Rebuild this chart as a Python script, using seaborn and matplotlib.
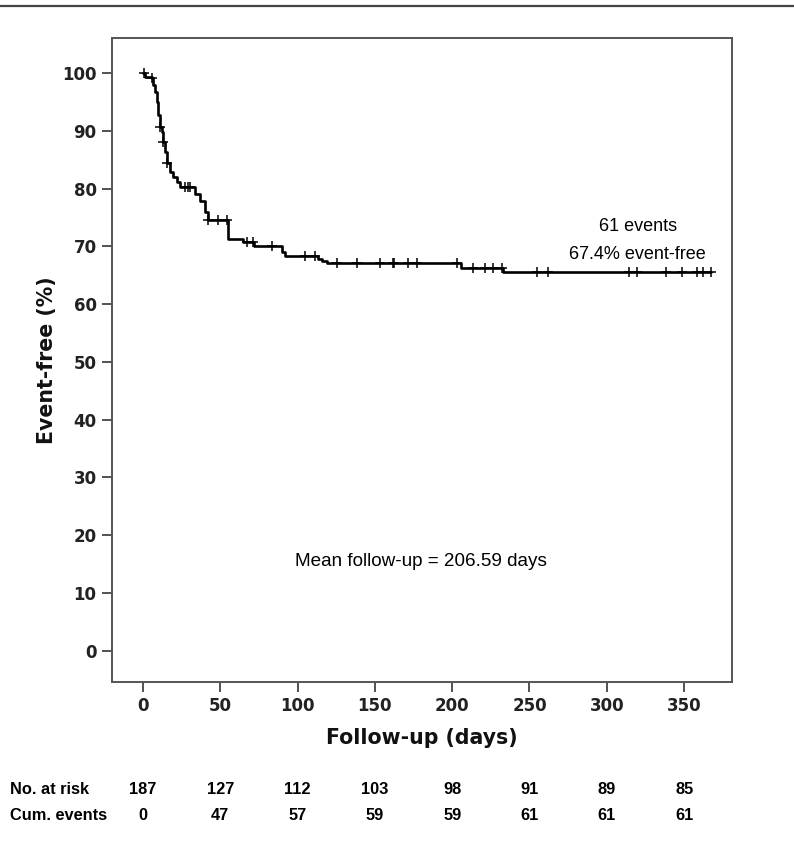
import numpy as np
import pandas as pd
import matplotlib
matplotlib.use("Agg")
import matplotlib.pyplot as plt
from matplotlib.lines import Line2D
import seaborn as sns

# ---- data ----
step_days = [0, 1.3, 5.8, 6.7, 7.8, 8.9, 9.9, 11.0, 12.1, 13.1, 14.2, 15.3, 17.5,
             19.6, 21.8, 23.9, 33.5, 37.0, 40.0, 42.0, 55.0, 65.0, 72.0, 90.0,
             92.0, 113.0, 116.0, 119.0, 205.5, 233.0, 367.5]
step_surv = [100, 99.4, 99.1, 97.9, 96.8, 95.0, 92.7, 90.7, 89.8, 88.1, 86.4, 84.4,
             82.9, 82.0, 81.2, 80.3, 79.0, 77.8, 76.0, 74.6, 71.3, 70.7, 70.1, 69.1,
             68.3, 67.8, 67.4, 67.1, 66.2, 65.6, 65.6]
censor_days = [0.5, 5.8, 11.0, 13.1, 15.3, 27.2, 29.1, 30.4, 42.2, 48.7, 54.1,
               67.1, 71.3, 83.2, 104.8, 111.3, 125.5, 138.4, 153.2, 161.7, 162.5,
               171.4, 177.2, 203.1, 213.5, 221.2, 226.4, 232.2, 254.8, 261.9,
               314.4, 319.5, 338.3, 348.6, 358.3, 362.2, 367.4]
risk_times = [0, 50, 100, 150, 200, 250, 300, 350]
n_at_risk = [187, 127, 112, 103, 98, 91, 89, 85]
cum_events = [0, 47, 57, 59, 59, 61, 61, 61]
x_ticks = [0, 50, 100, 150, 200, 250, 300, 350]
y_ticks = [0, 10, 20, 30, 40, 50, 60, 70, 80, 90, 100]

sns.set_theme(style="ticks")
plt.rcParams['font.family'] = ['DejaVu Sans']
plt.rcParams['text.color'] = 'black'

fig = plt.figure(figsize=(7.94, 8.6), dpi=100)
ax = fig.add_axes([0.141, 0.207, 0.781, 0.749])

curve = pd.DataFrame({"day": step_days, "surv": step_surv})
sns.lineplot(data=curve, x="day", y="surv", drawstyle="steps-post",
             color="black", lw=1.9, ax=ax, estimator=None, sort=False)

# censor marks placed on the step curve
sd = np.array(step_days)
ss = np.array(step_surv)
cy = [ss[np.searchsorted(sd, d, side="right") - 1] for d in censor_days]
cens = pd.DataFrame({"day": censor_days, "surv": cy})
sns.scatterplot(data=cens, x="day", y="surv", marker="+", s=50,
                color="black", linewidth=1.1, ax=ax, zorder=3)

ax.set_xlim(-20, 381)
ax.set_ylim(-5.4, 106.1)
ax.set_xticks(x_ticks)
ax.set_yticks(y_ticks)
ax.set_xticklabels([str(v) for v in x_ticks], fontweight="bold", fontsize=12, color="#222222")
ax.set_yticklabels([str(v) for v in y_ticks], fontweight="bold", fontsize=12, color="#222222")
ax.tick_params(direction="out", length=7, width=1.3, color="#444444", pad=4)
for sp in ax.spines.values():
    sp.set_visible(True)
    sp.set_color("#555555")
    sp.set_linewidth(1.4)
ax.set_xlabel("Follow-up (days)", fontweight="bold", fontsize=14.8, labelpad=9, color="#111111")
ax.set_ylabel("Event-free (%)", fontweight="bold", fontsize=14.8, labelpad=4, color="#111111")

txtfont = ['Liberation Sans', 'DejaVu Sans']
ax.text(320, 73.5, "61 events", ha="center", va="center", fontsize=13, family=txtfont)
ax.text(320, 68.6, "67.4% event-free", ha="center", va="center", fontsize=13, family=txtfont)
ax.text(180, 15.5, "Mean follow-up = 206.59 days", ha="center", va="center",
        fontsize=13.6, family=txtfont)

# number-at-risk table
tabfont = ['Liberation Sans Narrow', 'Liberation Sans', 'DejaVu Sans']
y1 = 1 - 789 / 860
y2 = 1 - 815 / 860
fig.text(10 / 794, y1, "No. at risk", ha="left", va="center", fontsize=11.8,
         fontweight="bold", family=tabfont)
fig.text(10 / 794, y2, "Cum. events", ha="left", va="center", fontsize=11.8,
         fontweight="bold", family=tabfont)
trans = matplotlib.transforms.blended_transform_factory(ax.transData, fig.transFigure)
for t, n, c in zip(risk_times, n_at_risk, cum_events):
    fig.text(t, y1, str(n), ha="center", va="center", fontsize=11.8, fontweight="bold",
             family=tabfont, transform=trans)
    fig.text(t, y2, str(c), ha="center", va="center", fontsize=11.8, fontweight="bold",
             family=tabfont, transform=trans)

# top rule
fig.add_artist(Line2D([0, 1], [0.9925, 0.9925], transform=fig.transFigure,
                      color="#444444", lw=1.6))

fig.savefig("out.png", dpi=100)
